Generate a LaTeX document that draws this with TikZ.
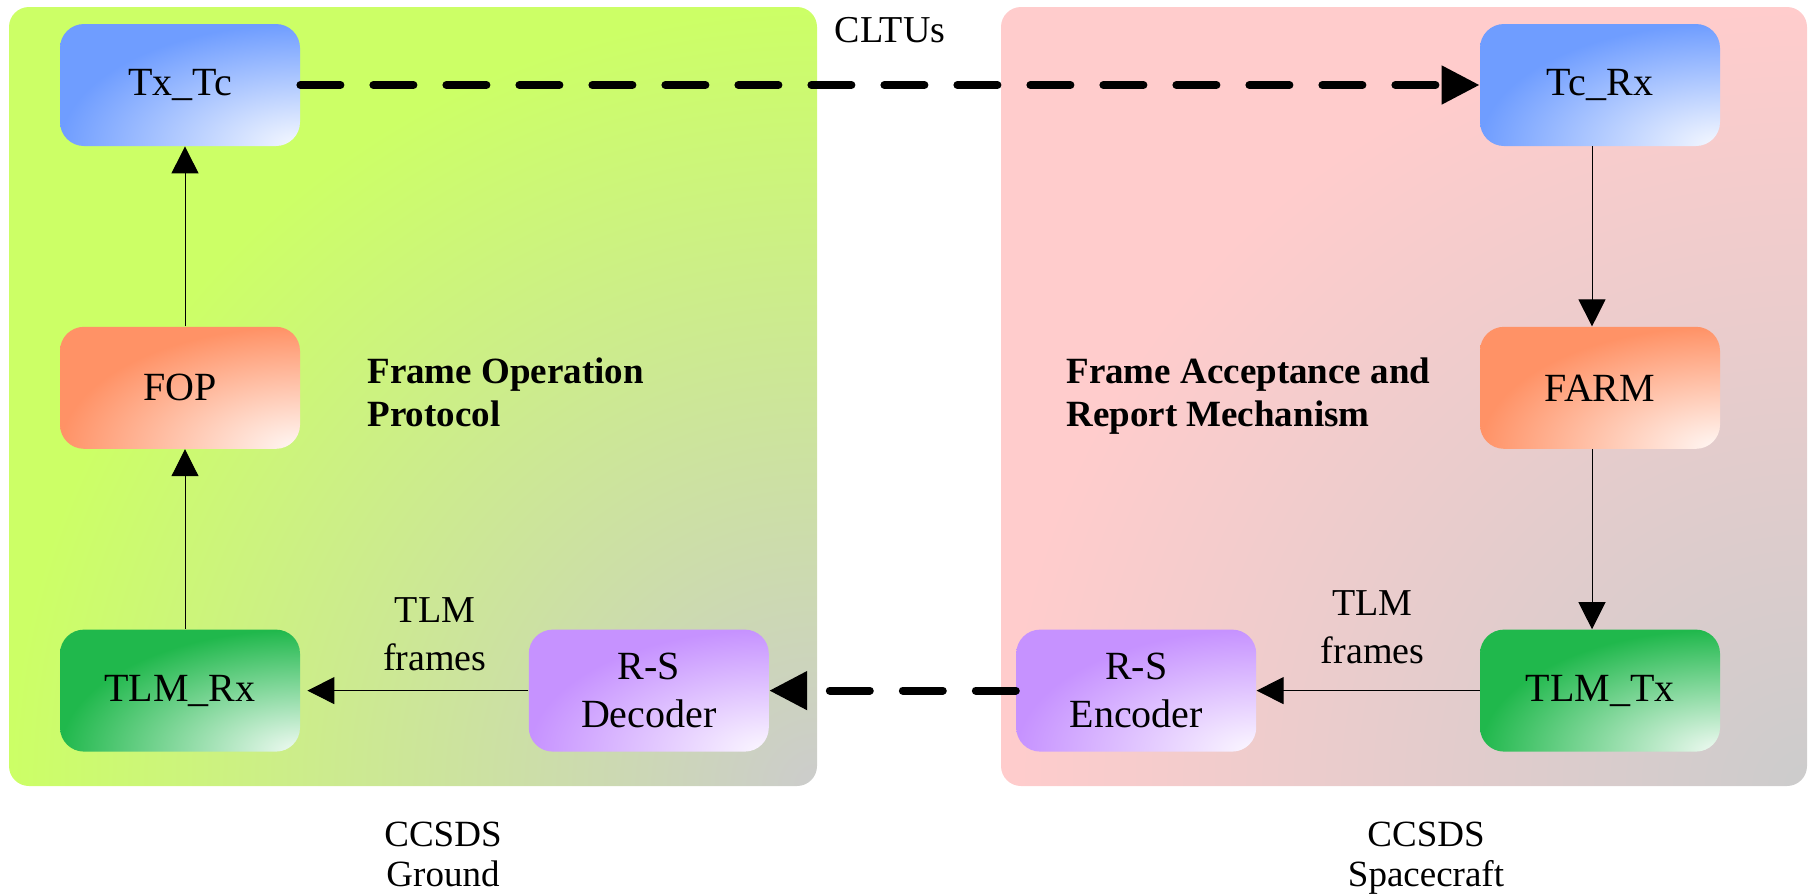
\documentclass[tikz,border=0pt]{standalone}
\usepackage{fontspec}
\setmainfont{Liberation Serif}
\usetikzlibrary{positioning}
\usetikzlibrary{calc}
\usetikzlibrary{arrows.meta}
\definecolor{txblue}{RGB}{111,157,255}
\definecolor{fopsalmon}{RGB}{255,146,102}
\definecolor{tlmgreen}{RGB}{32,184,76}
\definecolor{rslilac}{RGB}{198,146,255}
\definecolor{gndlime}{RGB}{204,255,102}
\definecolor{scpink}{RGB}{255,204,204}
\definecolor{panelgray}{RGB}{204,204,204}

\begin{document}
\begin{tikzpicture}[
    x=0.5pt, y=-0.5pt,
    node distance=90pt,
    % shading: pale in the south east corner, full colour elsewhere
    softshade/.style 2 args = {
      path picture = {
        \shade[outer color=#1, inner color=#2]
          (path picture bounding box.north west) rectangle
          ($(path picture bounding box.north west)!2!(path picture bounding box.south east)$);
      }
    },
    % node styles
    box/.style = {
      draw=none,
      rounded corners=12pt,
      minimum width=120pt,
      minimum height=61pt,
      inner sep=0pt,
      align=center,
      font=\fontsize{20}{24}\selectfont
    },
    bluebox/.style   = {box, softshade={txblue}{txblue!6!white}},
    salmonbox/.style = {box, softshade={fopsalmon}{fopsalmon!6!white}},
    greenbox/.style  = {box, softshade={tlmgreen}{tlmgreen!6!white}},
    lilacbox/.style  = {box, softshade={rslilac}{rslilac!6!white}},
    panel/.style = {rounded corners=10pt},
    boldlbl/.style = {
      inner sep=0pt,
      align=left,
      font=\bfseries\fontsize{18.5}{21.5}\selectfont
    },
    sidelbl/.style = {
      inner sep=0pt,
      align=center,
      font=\fontsize{18.5}{20}\selectfont
    },
    arrlbl/.style = {
      inner sep=0pt,
      align=center,
      font=\fontsize{19}{24}\selectfont
    },
    % arrow styles
    thinarr/.style = {-{Triangle[length=13.5pt, width=13.5pt]}, line width=0.5pt},
    dasharr/.style = {-{Triangle[length=19pt, width=18.5pt]}, line width=4pt,
      line cap=round, dash pattern=on 20pt off 16.5pt}
  ]
  \useasboundingbox (0,0) rectangle (1809,895);

  % --- Panels
  \path[panel, softshade={gndlime}{panelgray}] (9,7) rectangle (817,786);
  \path[panel, softshade={scpink}{panelgray}] (1001,7) rectangle (1807,786);

  % --- Nodes
  \node[bluebox] (txtc) at (180,85) {Tx\_Tc};
  \node[salmonbox, below=of txtc] (fop) {FOP};
  \node[greenbox, below=of fop] (tlmrx) {TLM\_Rx};
  \node[lilacbox, right=114pt of tlmrx] (rsdec) {R-S\\Decoder};

  \node[bluebox] (tcrx) at (1600,85) {Tc\_Rx};
  \node[salmonbox, below=of tcrx] (farm) {FARM};
  \node[greenbox, below=of farm] (tlmtx) {TLM\_Tx};
  \node[lilacbox, left=111.5pt of tlmtx] (rsenc) {R-S\\Encoder};

  \node[boldlbl, anchor=north west] (fopname) at (367,357) {Frame Operation\\Protocol};
  \node[boldlbl, anchor=north west] (farmname) at (1066,357) {Frame Acceptance and\\Report Mechanism};

  \node[sidelbl, anchor=north] (gndname) at (443,822) {CCSDS\\Ground};
  \node[sidelbl, anchor=north] (scname) at (1426,822) {CCSDS\\Spacecraft};

  % --- Arrows
  \draw[dasharr] (txtc) -- node[arrlbl, above=19pt] (cltus) {CLTUs} (tcrx);
  \draw[dasharr] (rsenc) -- (rsdec);

  \draw[thinarr] ([xshift=2.5pt]tlmrx.north) -- ([xshift=2.5pt]fop.south);
  \draw[thinarr] ([xshift=2.5pt]fop.north) -- ([xshift=2.5pt]txtc.south);
  \draw[thinarr, shorten >=3.5pt] (rsdec) -- node[arrlbl, pos=0.41, above=9.5pt] (gndframes) {TLM\\frames} (tlmrx);

  \draw[thinarr] ([xshift=-4pt]tcrx.south) -- ([xshift=-4pt]farm.north);
  \draw[thinarr] ([xshift=-4pt]farm.south) -- ([xshift=-4pt]tlmtx.north);
  \draw[thinarr] (tlmtx) -- node[arrlbl, pos=0.48, above=13pt] (scframes) {TLM\\frames} (rsenc);

\end{tikzpicture}
\end{document}
